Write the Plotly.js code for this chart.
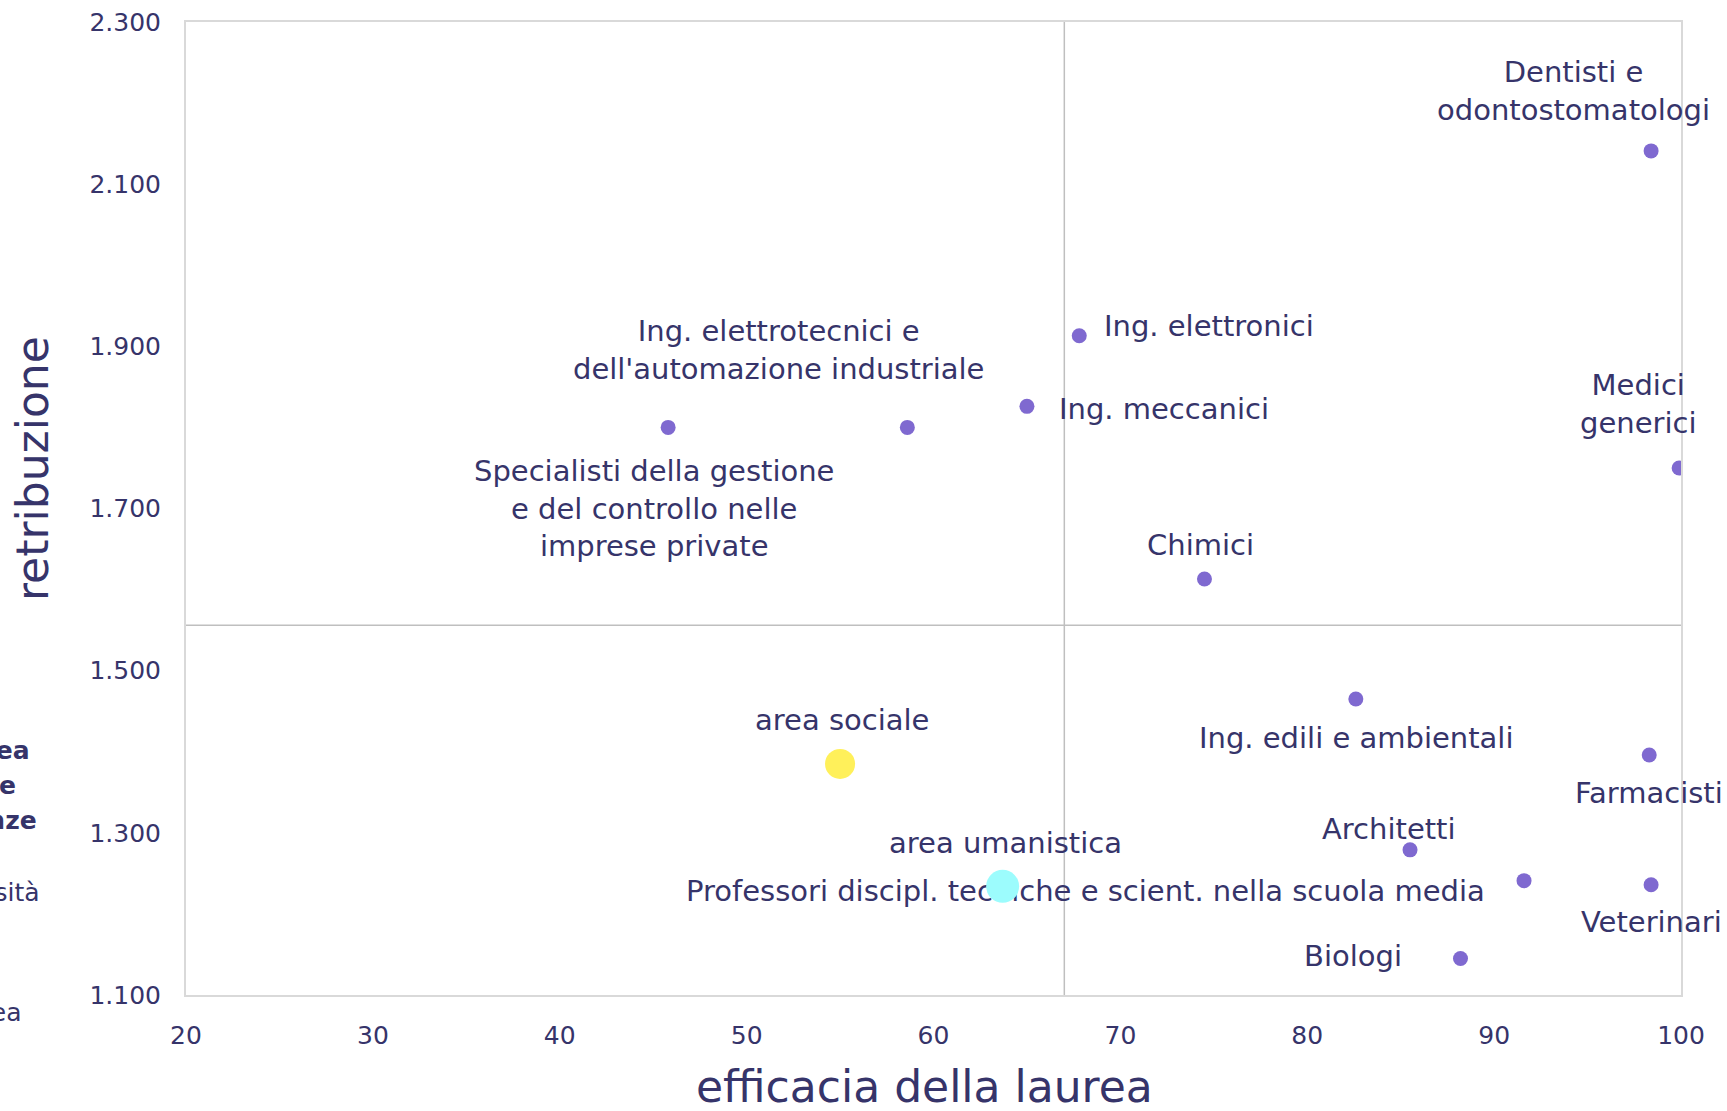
<!DOCTYPE html>
<html>
<head>
<meta charset="utf-8">
<script src="https://cdn.plot.ly/plotly-3.0.1.min.js"></script>
<style>
  html, body { margin: 0; padding: 0; background: #fff; }
  #chart { width: 1727px; height: 1111px; }
</style>
</head>
<body>
<div id="chart"></div>
<script>
// ---- data ----
const profNames = [
  'Dentisti e<br>odontostomatologi',
  'Medici<br>generici',
  'Ing. elettronici',
  'Ing. meccanici',
  'Ing. elettrotecnici e<br>dell\'automazione industriale',
  'Specialisti della gestione<br>e del controllo nelle<br>imprese private',
  'Chimici',
  'Ing. edili e ambientali',
  'Farmacisti',
  'Architetti',
  'Professori discipl. tecniche e scient. nella scuola media',
  'Veterinari',
  'Biologi'
];
const profEfficacia = [98.4, 99.9, 67.8, 65.0, 58.6, 45.8, 74.5, 82.6, 98.3, 85.5, 91.6, 98.4, 88.2];
const profRetribuzione = [2141, 1750, 1913, 1826, 1800, 1800, 1613, 1465, 1396, 1279, 1241, 1236, 1145];

const areaNames = ['area sociale', 'area umanistica'];
const areaEfficacia = [55.0, 63.7];
const areaRetribuzione = [1385, 1234];

const meanEfficacia = 67.0;
const meanRetribuzione = 1556;

const yTicks = [1100, 1300, 1500, 1700, 1900, 2100, 2300];
const xTicks = [20, 30, 40, 50, 60, 70, 80, 90, 100];

const legendFragments = ['Area', 'delle', 'Scienze', 'Università', 'Laurea'];

// ---- styles (label offsets in pixels) ----
const profLabelStyle = [
  {xanchor: 'center', xshift: -78, yshift: 60},
  {xanchor: 'center', xshift: -41, yshift: 64},
  {xanchor: 'left', xshift: 23, yshift: 10},
  {xanchor: 'left', xshift: 30, yshift: -3},
  {xanchor: 'center', xshift: -129, yshift: 77},
  {xanchor: 'center', xshift: -14, yshift: -81},
  {xanchor: 'center', xshift: -4, yshift: 34},
  {xanchor: 'center', xshift: 0, yshift: -39},
  {xanchor: 'center', xshift: 0, yshift: -38},
  {xanchor: 'center', xshift: -21, yshift: 21},
  {xanchor: 'right', xshift: -37, yshift: -10},
  {xanchor: 'center', xshift: 0, yshift: -37},
  {xanchor: 'right', xshift: -56, yshift: 3}
];
const areaLabelStyle = [
  {xanchor: 'center', xshift: 2, yshift: 44},
  {xanchor: 'center', xshift: 3, yshift: 43}
];
const areaColors = ['#FFF05A', '#9CFCFD'];
const areaSizes = [30, 33];
const legendStyle = [
  {right: 32, y: 750, bold: true},
  {right: 18, y: 785, bold: true},
  {right: 39, y: 820, bold: true},
  {right: 42, y: 892, bold: false},
  {right: 24, y: 1013, bold: false}
];

const FONT = 'DejaVu Sans, sans-serif';
const TXT = '#36346A';

const ML = 186, MR = 46, MT = 22, MB = 116, W = 1727, H = 1111;
const PW = W - ML - MR, PH = H - MT - MB;

const traces = [
  {
    type: 'scatter', mode: 'markers',
    x: profEfficacia, y: profRetribuzione,
    marker: {color: '#7F69D0', size: 15, line: {width: 0}},
    hoverinfo: 'skip', showlegend: false
  }
];
areaNames.forEach((n, i) => {
  traces.push({
    type: 'scatter', mode: 'markers',
    x: [areaEfficacia[i]], y: [areaRetribuzione[i]],
    marker: {color: areaColors[i], size: areaSizes[i], line: {width: 0}},
    hoverinfo: 'skip', showlegend: false, name: n
  });
});

const annotations = [];
profNames.forEach((n, i) => {
  const s = profLabelStyle[i];
  annotations.push({
    x: profEfficacia[i], y: profRetribuzione[i], xref: 'x', yref: 'y',
    text: n, showarrow: false, xanchor: s.xanchor, yanchor: 'middle',
    xshift: s.xshift, yshift: s.yshift, align: 'center',
    font: {family: FONT, size: 29, color: TXT}
  });
});
areaNames.forEach((n, i) => {
  const s = areaLabelStyle[i];
  annotations.push({
    x: areaEfficacia[i], y: areaRetribuzione[i], xref: 'x', yref: 'y',
    text: n, showarrow: false, xanchor: s.xanchor, yanchor: 'middle',
    xshift: s.xshift, yshift: s.yshift,
    font: {family: FONT, size: 29, color: TXT}
  });
});
// axis titles
annotations.push({
  xref: 'paper', yref: 'paper', x: (924 - ML) / PW, y: (H - MB - 1086) / PH,
  text: 'efficacia della laurea', showarrow: false, xanchor: 'center', yanchor: 'middle',
  font: {family: FONT, size: 44, color: TXT}
});
annotations.push({
  xref: 'paper', yref: 'paper', x: (33 - ML) / PW, y: (H - MB - 469) / PH,
  text: 'retribuzione', showarrow: false, xanchor: 'center', yanchor: 'middle', textangle: -90,
  font: {family: FONT, size: 44, color: TXT}
});
// cut-off legend fragments at the left edge
legendFragments.forEach((t, i) => {
  const s = legendStyle[i];
  annotations.push({
    xref: 'paper', yref: 'paper', x: (s.right - ML) / PW, y: (H - MB - s.y) / PH,
    text: s.bold ? '<b>' + t + '</b>' : t, showarrow: false, xanchor: 'right', yanchor: 'middle',
    font: {family: FONT, size: 25, color: TXT}
  });
});

const shapes = [
  {type: 'line', xref: 'x', yref: 'paper', x0: meanEfficacia, x1: meanEfficacia, y0: 0, y1: 1,
   line: {color: '#BFBFBF', width: 1.5}, layer: 'below'},
  {type: 'line', xref: 'paper', yref: 'y', x0: 0, x1: 1, y0: meanRetribuzione, y1: meanRetribuzione,
   line: {color: '#BFBFBF', width: 1.5}, layer: 'below'}
];

const layout = {
  width: W, height: H,
  margin: {l: ML, r: MR, t: MT, b: MB, pad: 0},
  paper_bgcolor: '#FFFFFF', plot_bgcolor: '#FFFFFF',
  separators: ',.',
  showlegend: false,
  font: {family: FONT, color: TXT},
  xaxis: {
    range: [20, 100], tickvals: xTicks, ticktext: xTicks.map(String),
    showgrid: false, zeroline: false,
    showline: true, mirror: true, linecolor: '#D9D9D9', linewidth: 2,
    ticks: 'outside', ticklen: 17, tickcolor: 'rgba(0,0,0,0)',
    tickfont: {family: FONT, size: 25, color: TXT}
  },
  yaxis: {
    range: [1100, 2300], tickvals: yTicks, tickformat: ',d',
    showgrid: false, zeroline: false,
    showline: true, mirror: true, linecolor: '#D9D9D9', linewidth: 2,
    ticks: 'outside', ticklen: 18, tickcolor: 'rgba(0,0,0,0)',
    tickfont: {family: FONT, size: 25, color: TXT}
  },
  shapes: shapes,
  annotations: annotations
};

Plotly.newPlot('chart', traces, layout, {displayModeBar: false, staticPlot: true}).then(gd => {
  // put the "Professori" label beneath the markers, as in the original
  const idx = profNames.findIndex(n => n.startsWith('Professori'));
  const ann = gd.querySelector('.infolayer .annotation[data-index="' + idx + '"]');
  const below = gd.querySelector('.layer-below');
  if (ann && below) below.appendChild(ann);
});
</script>
</body>
</html>
